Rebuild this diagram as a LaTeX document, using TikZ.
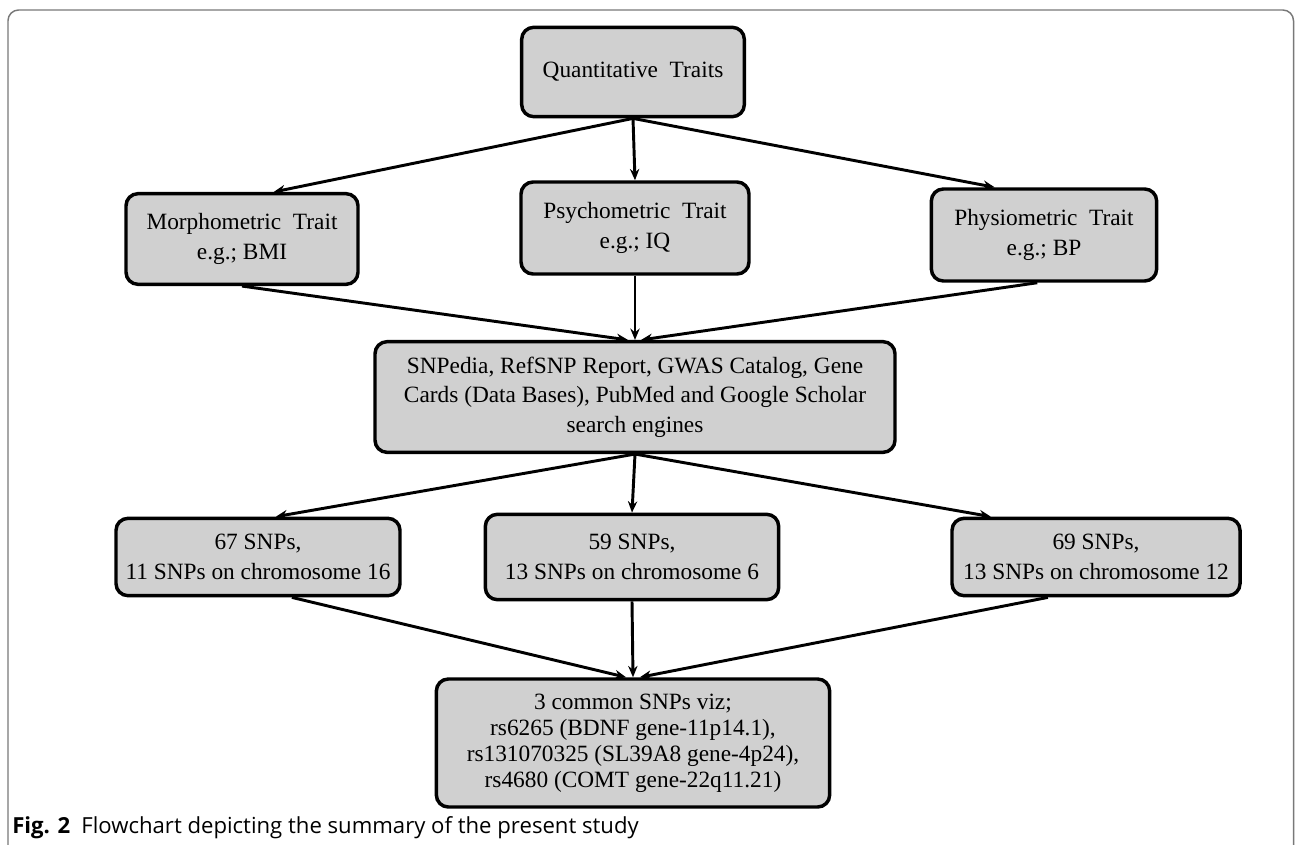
\documentclass[tikz,border=0pt]{standalone}
\usepackage{fontspec}
\setmainfont{Liberation Serif}
\newfontfamily\capfont{Open Sans}
\usepackage{tikz}
\usetikzlibrary{arrows.meta}
\definecolor{boxgray}{RGB}{208,208,208}
\definecolor{framegray}{RGB}{120,120,120}

\begin{document}
\begin{tikzpicture}[x=0.75pt,y=-0.75pt,
  box/.style={draw,line width=2.6pt,fill=boxgray,rounded corners=9pt,inner sep=0pt,
    align=center,font=\fontsize{17.5}{22}\selectfont},
  link/.style={line width=2.2pt,-{Stealth[length=8.5pt,width=7pt]}}]
\useasboundingbox (0,0) rectangle (1295,845);
\draw[framegray,line width=1.1pt,rounded corners=8pt] (8,845) -- (8,10) -- (1293.5,10) -- (1293.5,845);

\draw (633,72) node[box,minimum width=167pt,minimum height=67pt](qt) {Quantitative\ \ Traits};

\draw (242,239) node[box,minimum width=174pt,minimum height=68pt](morph) {Morphometric\ \ Trait\\e.g.; BMI};
\draw (635,228) node[box,minimum width=171pt,minimum height=69pt](psych) {Psychometric\ \ Trait\\e.g.; IQ};
\draw (1044,235) node[box,minimum width=169pt,minimum height=69pt](physio) {Physiometric\ \ Trait\\e.g.; BP};

\draw (635,397) node[box,minimum width=390pt,minimum height=83pt](db) {SNPedia, RefSNP Report, GWAS Catalog, Gene\\Cards (Data Bases), PubMed and Google Scholar\\search engines};

\draw (258,557) node[box,minimum width=213pt,minimum height=58pt](c16) {67 SNPs,\\11 SNPs\ on\ chromosome\ 16};
\draw (632,557) node[box,minimum width=220pt,minimum height=64pt](c6) {59 SNPs,\\13 SNPs\ on\ chromosome\ 6};
\draw (1096,557) node[box,minimum width=216pt,minimum height=58pt](c12) {69 SNPs,\\13 SNPs\ on\ chromosome\ 12};

\draw (633,743) node[box,minimum width=295pt,minimum height=96pt,font=\fontsize{17.5}{19.5}\selectfont](common) {3 common SNPs viz;\\rs6265 (BDNF\ gene-11p14.1),\\rs131070325 (SL39A8\ gene-4p24),\\rs4680 (COMT\ gene-22q11.21)};

\draw (12,833) node[anchor=base west,inner sep=0pt,font=\capfont\fontsize{16.6}{19}\selectfont](cap) {\textbf{Fig. 2}\hspace{0.5em}Flowchart depicting the summary of the present study};

\draw[link] (qt.south) -- (morph.56);
\draw[link] (qt.south) -- (psych.north);
\draw[link] (qt.south) -- (physio.136);

\draw[link] (morph.south) -- (db.97);
\draw[link] (psych.south) -- (db.north);
\draw[link] (physio.-98) -- (db.84);

\draw[link] (db.south) -- (c16.66);
\draw[link] (db.south) -- (c6.north);
\draw[link] (db.south) -- (c12.159);

\draw[link] (c16.-50) -- (common.96);
\draw[link] (c6.south) -- (common.north);
\draw[link] (c12.-140) -- (common.84);
\end{tikzpicture}
\end{document}
